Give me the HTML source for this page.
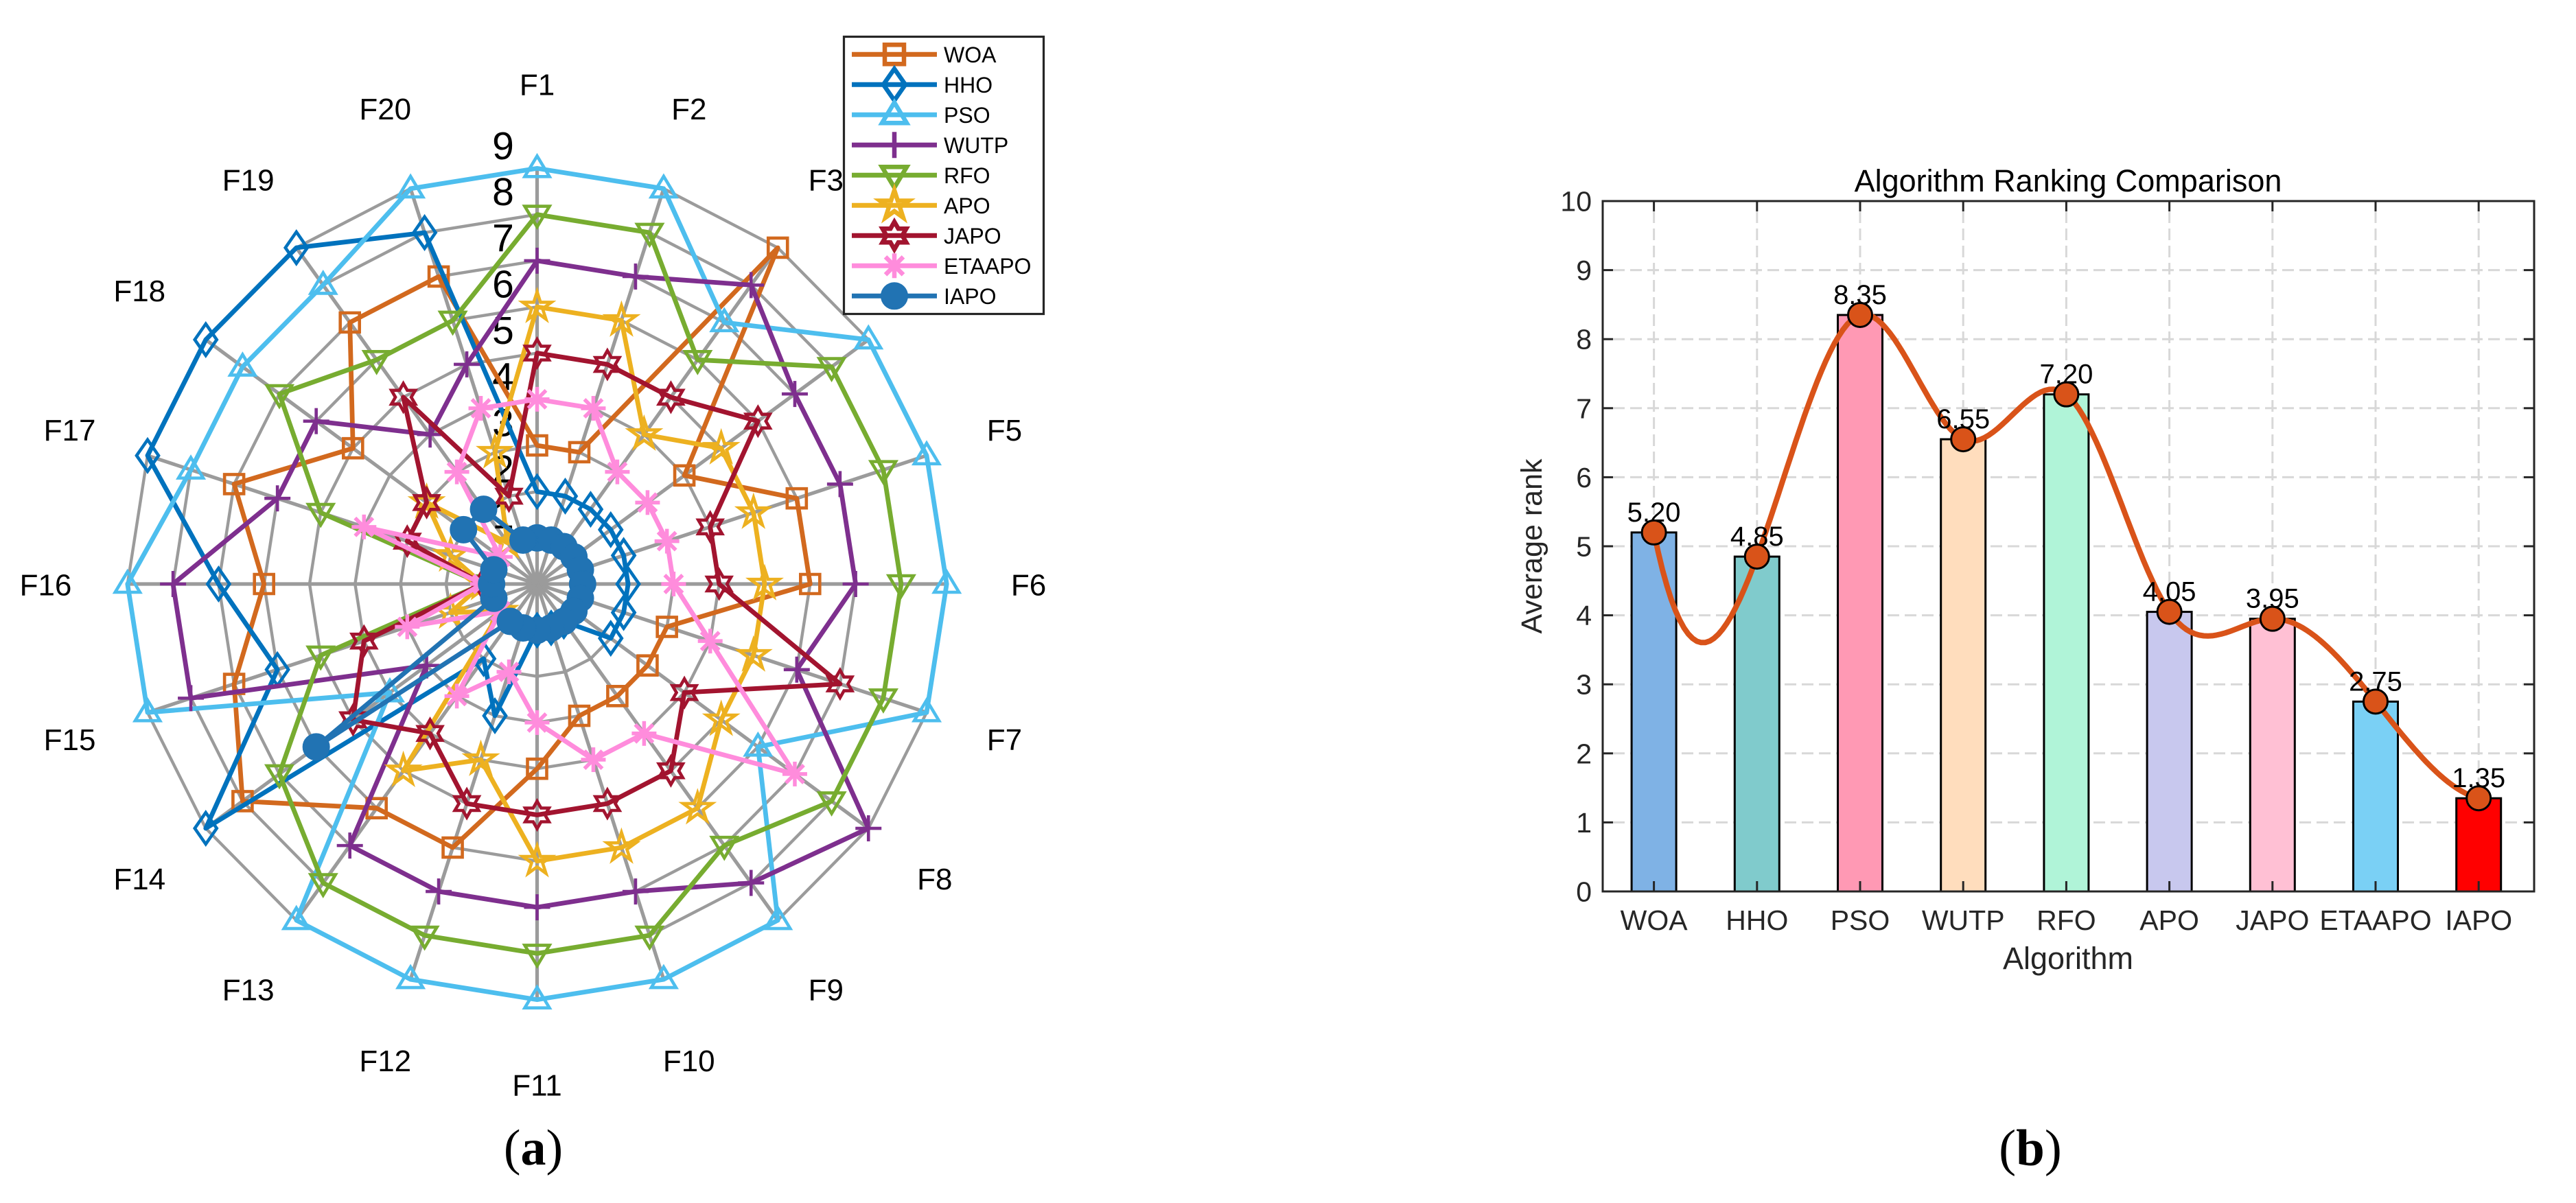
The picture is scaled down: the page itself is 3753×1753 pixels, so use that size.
<!DOCTYPE html>
<html lang="en">
<head>
<meta charset="utf-8">
<title>Algorithm ranking radar and bar chart</title>
<style>
html,body{margin:0;padding:0;background:#fff;}
#canvas{display:block;width:3753px;height:1753px;}
text{font-family:"Liberation Sans",Arial,sans-serif;}
.cap{font-family:"Liberation Serif","Times New Roman",serif;fill:#000;}
</style>
</head>
<body>
<svg id="canvas" xmlns="http://www.w3.org/2000/svg" width="3753" height="1753" viewBox="0 0 3753 1753">
  <rect x="0" y="0" width="3753" height="1753" fill="#fff"/>
  <g id="radar"></g>
  <g id="legend"></g>
  <g id="bars">
    <text x="3013" y="279" font-size="45" text-anchor="middle" fill="#000">Algorithm Ranking Comparison</text>
    <text x="3013" y="1412" font-size="45" text-anchor="middle" fill="#262626">Algorithm</text>
    <text transform="translate(2246 796) rotate(-90)" font-size="43" text-anchor="middle" fill="#262626">Average rank</text>
  </g>
  <text class="cap" x="777" y="1697" font-size="74" text-anchor="middle">(<tspan font-weight="bold">a</tspan>)</text>
  <text class="cap" x="2958" y="1698" font-size="75" text-anchor="middle">(<tspan font-weight="bold">b</tspan>)</text>
</svg>
<script>
/* ---------- radar data ---------- */
const functionLabels = ['F1','F2','F3','F4','F5','F6','F7','F8','F9','F10','F11','F12','F13','F14','F15','F16','F17','F18','F19','F20'];
const radialTicks = [1,2,3,4,5,6,7,8,9];
const seriesNames = ['WOA','HHO','PSO','WUTP','RFO','APO','JAPO','ETAAPO','IAPO'];
const woaRanks    = [3,3,9,4,6,6,3,3,3,3,4,6,6,8,7,6,7,5,7,7];
const hhoRanks    = [2,2,2,2,2,2,2,2,1,1,1,3,2,9,6,7,9,9,9,8];
const psoRanks    = [9,9,7,9,9,9,9,6,9,9,9,9,9,4,9,9,8,8,8,9];
const wutpRanks   = [7,7,8,7,7,7,6,9,8,7,7,7,7,3,8,8,6,6,4,5];
const rfoRanks    = [8,8,6,8,8,8,8,8,7,8,8,8,8,7,5,1.2,5,7,6,6];
const apoRanks    = [6,6,4,5,5,5,5,5,6,6,6,4,5,1,2,1.2,2,3,1.1,3];
const japoRanks   = [5,5,5,6,4,4,7,4,5,5,5,5,4,5,4,1.2,3,3,5,2];
const etaapoRanks = [4,4,3,3,3,3,4,7,4,4,3,2,3,1,3,1.2,4,1,3,4];
const iapoRanks   = [1,1,1,1,1,1,1,1,1,1,1,1,1,6,1,1,1,2,2,1];
const allRanks = [woaRanks,hhoRanks,psoRanks,wutpRanks,rfoRanks,apoRanks,japoRanks,etaapoRanks,iapoRanks];

/* ---------- bar chart data ---------- */
const algorithms = ['WOA','HHO','PSO','WUTP','RFO','APO','JAPO','ETAAPO','IAPO'];
const averageRanks = [5.20,4.85,8.35,6.55,7.20,4.05,3.95,2.75,1.35];
const yTicks = [0,1,2,3,4,5,6,7,8,9,10];

/* ---------- styles ---------- */
const seriesColors = ['#D2691E','#0072BD','#4DBEEE','#7E2F8E','#77AC30','#EDB120','#A2142F','#FF8CDC','#2173B3'];
const seriesMarkers = ['square','diamond','triangle','plus','triangleDown','star','hexagram','asterisk','circle'];
const barColors = ['#7FB2E5','#80CBCC','#FF99B4','#FFDDBD','#B0F4D8','#C8C8EE','#FFC0D4','#7AD0F5','#FF0000'];

const NS = 'http://www.w3.org/2000/svg';
function make(parent, tag, attrs, txt){
  const e = document.createElementNS(NS, tag);
  for (const k in attrs) e.setAttribute(k, attrs[k]);
  if (txt !== undefined) e.textContent = txt;
  parent.appendChild(e);
  return e;
}

/* ---------- radar axes ---------- */
const CX = 782.5, CY = 851, RX = 66.3, RY = 67.3;
function angleOf(k){ return k * 2 * Math.PI / functionLabels.length; }
function radarX(rank, k){ return CX + rank * RX * Math.sin(angleOf(k)); }
function radarY(rank, k){ return CY - rank * RY * Math.cos(angleOf(k)); }

function starPoints(x, y, R, r, n){
  const pts = [];
  for (let i = 0; i < 2 * n; i++){
    const a = i * Math.PI / n;
    const d = i % 2 ? r : R;
    pts.push((x + d * Math.sin(a)).toFixed(1) + ',' + (y - d * Math.cos(a)).toFixed(1));
  }
  return pts.join(' ');
}
function drawMarker(g, type, x, y, color, sw){
  const base = {fill:'none', stroke:color, 'stroke-width':sw, 'stroke-linejoin':'miter', 'stroke-miterlimit':10};
  const poly = (pts) => make(g, 'polygon', Object.assign({points:pts}, base));
  const seg = (x1,y1,x2,y2) => make(g, 'line', {x1:x1,y1:y1,x2:x2,y2:y2,stroke:color,'stroke-width':sw});
  if (type === 'square') poly([[x-14,y-14],[x+14,y-14],[x+14,y+14],[x-14,y+14]].join(' '));
  else if (type === 'diamond') poly([[x,y-23],[x+16,y],[x,y+23],[x-16,y]].join(' '));
  else if (type === 'triangle') poly([[x,y-18],[x+18,y+12],[x-18,y+12]].join(' '));
  else if (type === 'triangleDown') poly([[x,y+18],[x+18,y-12],[x-18,y-12]].join(' '));
  else if (type === 'star') poly(starPoints(x, y, 22, 8.4, 5));
  else if (type === 'hexagram') poly(starPoints(x, y, 20, 11.5, 6));
  else if (type === 'plus'){ seg(x-19,y,x+19,y); seg(x,y-19,x,y+19); }
  else if (type === 'asterisk'){
    seg(x-18,y,x+18,y); seg(x,y-18,x,y+18);
    seg(x-13,y-13,x+13,y+13); seg(x-13,y+13,x+13,y-13);
  }
  else if (type === 'circle') make(g, 'circle', {cx:x, cy:y, r:19.5, fill:color, stroke:color, 'stroke-width':1});
}

const radar = document.getElementById('radar');
/* spokes */
functionLabels.forEach((name, k) => {
  const sp = make(radar, 'line', {x1:CX, y1:CY, x2:radarX(9,k), y2:radarY(9,k), stroke:'#9B9B9B', 'stroke-width':5.2});
  
  
});
/* rings */
radialTicks.forEach(level => {
  const pts = functionLabels.map((_, k) => radarX(level,k).toFixed(1) + ',' + radarY(level,k).toFixed(1)).join(' ');
  const ring = make(radar, 'polygon', {points:pts, fill:'none', stroke:'#9B9B9B', 'stroke-width':4.4});
  
  
});
/* radial tick labels */
radialTicks.forEach(level => {
  const t = make(radar, 'text', {x:733, y:CY - level*RY - 34 + 20.5, 'font-size':57, 'text-anchor':'middle', fill:'#000'}, String(level));
  
  
});
/* function labels */
functionLabels.forEach((name, k) => {
  const x = CX + 716 * Math.sin(angleOf(k));
  const y = CY - 729 * Math.cos(angleOf(k));
  const t = make(radar, 'text', {x:x, y:y + 16.5, 'font-size':44, 'text-anchor':'middle', fill:'#000'}, name);
  
  
});
/* series */
allRanks.forEach((ranks, s) => {
  const g = make(radar, 'g', {});
  
  
  const pts = ranks.map((v,k) => radarX(v,k).toFixed(1) + ',' + radarY(v,k).toFixed(1)).join(' ');
  const line = make(g, 'polygon', {points:pts, fill:'none', stroke:seriesColors[s], 'stroke-width':6.8, 'stroke-linejoin':'round'});
  
  
  ranks.forEach((v,k) => {
    const mk = make(g, 'g', {});
    
    
    drawMarker(mk, seriesMarkers[s], radarX(v,k), radarY(v,k), seriesColors[s], seriesMarkers[s] === 'asterisk' ? 5.5 : 4.6);
  });
});

/* ---------- legend ---------- */
const legend = document.getElementById('legend');
const legendBox = make(legend, 'rect', {x:1229.5, y:53.5, width:291, height:404, fill:'#fff', stroke:'#262626', 'stroke-width':3.2});


seriesNames.forEach((name, s) => {
  const y = 79.3 + s * 44;
  const g = make(legend, 'g', {});
  
  
  make(g, 'line', {x1:1241, y1:y, x2:1365, y2:y, stroke:seriesColors[s], 'stroke-width':7});
  drawMarker(g, seriesMarkers[s], 1303, y, seriesColors[s], 6.5);
  make(g, 'text', {x:1375, y:y + 11.5, 'font-size':32, fill:'#000'}, name);
});

/* ---------- bar chart axes ---------- */
const bars = document.getElementById('bars');
const L = 2335, R = 3692, T = 293, B = 1299;
function xScale(i){ return 2409.6 + i * 150.2; }
function yScale(v){ return B - (v / 10) * (B - T); }

function splineSecond(ys){
  const n = ys.length;
  const A = [];
  for (let i = 0; i < n; i++) A.push(new Array(n + 1).fill(0));
  A[0][0] = 1; A[0][1] = -2; A[0][2] = 1;
  A[n-1][n-3] = 1; A[n-1][n-2] = -2; A[n-1][n-1] = 1;
  for (let i = 1; i < n - 1; i++){
    A[i][i-1] = 1; A[i][i] = 4; A[i][i+1] = 1;
    A[i][n] = 6 * (ys[i-1] - 2 * ys[i] + ys[i+1]);
  }
  for (let c = 0; c < n; c++){
    let p = c;
    for (let r = c + 1; r < n; r++) if (Math.abs(A[r][c]) > Math.abs(A[p][c])) p = r;
    const tmp = A[c]; A[c] = A[p]; A[p] = tmp;
    for (let r = 0; r < n; r++){
      if (r === c) continue;
      const f = A[r][c] / A[c][c];
      for (let j = c; j <= n; j++) A[r][j] -= f * A[c][j];
    }
  }
  return A.map((row, i) => row[n] / row[i]);
}

/* grid */
yTicks.forEach(v => {
  if (v === 0 || v === 10) return;
  const g = make(bars, 'line', {x1:L+15, y1:yScale(v), x2:R-15, y2:yScale(v), stroke:'#D8D8D8', 'stroke-width':3, 'stroke-dasharray':'17 8'});
  
  
});
algorithms.forEach((name, i) => {
  const g = make(bars, 'line', {x1:xScale(i), y1:T+15, x2:xScale(i), y2:B, stroke:'#D8D8D8', 'stroke-width':3, 'stroke-dasharray':'17 8'});
  
  
});
/* bars */
averageRanks.forEach((v, i) => {
  const b = make(bars, 'rect', {x:xScale(i)-32.5, y:yScale(v), width:65, height:B-yScale(v), fill:barColors[i], stroke:'#000', 'stroke-width':3});
  
  
});
/* axes box and ticks */
const box = make(bars, 'rect', {x:L, y:T, width:R-L, height:B-T, fill:'none', stroke:'#262626', 'stroke-width':3});


yTicks.forEach(v => {
  const tg = make(bars, 'g', {stroke:'#262626', 'stroke-width':3});
  
  
  make(tg, 'line', {x1:L, y1:yScale(v), x2:L+15, y2:yScale(v)});
  make(tg, 'line', {x1:R, y1:yScale(v), x2:R-15, y2:yScale(v)});
  const lab = make(bars, 'text', {x:L-16, y:yScale(v)+14.5, 'font-size':41, 'text-anchor':'end', fill:'#262626'}, String(v));
  
  
});
algorithms.forEach((name, i) => {
  const tg = make(bars, 'g', {stroke:'#262626', 'stroke-width':3});
  
  
  make(tg, 'line', {x1:xScale(i), y1:B, x2:xScale(i), y2:B-15});
  make(tg, 'line', {x1:xScale(i), y1:T, x2:xScale(i), y2:T+15});
  const lab = make(bars, 'text', {x:xScale(i), y:1355, 'font-size':41, 'text-anchor':'middle', fill:'#262626'}, name);
  
  
});
/* spline curve */
const M = splineSecond(averageRanks);
let curve = '';
for (let i = 0; i < averageRanks.length - 1; i++){
  for (let j = 0; j <= 24; j++){
    if (i > 0 && j === 0) continue;
    const t = j / 24, u = 1 - t;
    const val = u * averageRanks[i] + t * averageRanks[i+1]
      + ((u*u*u - u) * M[i] + (t*t*t - t) * M[i+1]) / 6;
    curve += (xScale(i + t)).toFixed(1) + ',' + yScale(val).toFixed(1) + ' ';
  }
}
const spline = make(bars, 'polyline', {points:curve.trim(), fill:'none', stroke:'#D95319', 'stroke-width':8, 'stroke-linejoin':'round', 'stroke-linecap':'round'});


/* points and value labels */
averageRanks.forEach((v, i) => {
  const val = make(bars, 'text', {x:xScale(i), y:yScale(v)-16, 'font-size':40, 'text-anchor':'middle', fill:'#000'}, v.toFixed(2));
  
  
  const dot = make(bars, 'circle', {cx:xScale(i), cy:yScale(v), r:17.5, fill:'#D95319', stroke:'#000', 'stroke-width':3});
  
  
});
</script>
</body>
</html>
